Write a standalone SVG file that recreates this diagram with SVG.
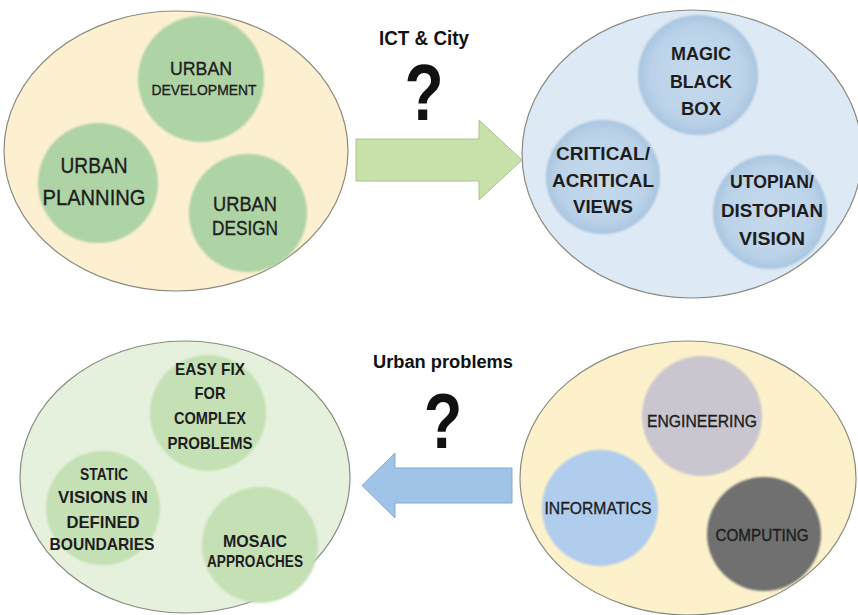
<svg xmlns="http://www.w3.org/2000/svg" width="858" height="615" viewBox="0 0 858 615">
  <defs>
    <filter id="soft" x="-10%" y="-10%" width="120%" height="120%">
      <feGaussianBlur stdDeviation="1"/>
    </filter>
    <radialGradient id="blueBall" cx="50%" cy="50%" r="50%">
      <stop offset="0" stop-color="#c6daec"/>
      <stop offset="0.8" stop-color="#bad2e8"/>
      <stop offset="1" stop-color="#a9c5df"/>
    </radialGradient>
  </defs>
  <style>
    .frame { stroke: #8a8a80; stroke-width: 1.2; }
    .t { font-family: "Liberation Sans", Arial, sans-serif; fill: #1d1d1d; text-anchor: middle; }
    .r { stroke: #1d1d1d; stroke-width: 0.35; }
    .b { font-weight: bold; }
    .head { font-family: "Liberation Sans", Arial, sans-serif; font-weight: bold; fill: #111; text-anchor: middle; }
  </style>
  <rect width="858" height="615" fill="#ffffff"/>

  <!-- Urban disciplines -->
  <g id="urban">
    <ellipse class="frame" cx="176" cy="151" rx="172" ry="140" fill="#fcf0d0"/>
    <g filter="url(#soft)" fill="#aed3a4">
      <circle cx="201" cy="79" r="63"/>
      <circle cx="98" cy="183" r="60"/>
      <circle cx="248" cy="213" r="59"/>
    </g>
    <text class="t r" x="201" y="75" font-size="19" textLength="62" lengthAdjust="spacingAndGlyphs">URBAN</text>
    <text class="t r" x="204" y="95" font-size="15" textLength="105" lengthAdjust="spacingAndGlyphs">DEVELOPMENT</text>
    <text class="t r" x="94" y="173" font-size="22" textLength="67" lengthAdjust="spacingAndGlyphs">URBAN</text>
    <text class="t r" x="94" y="205" font-size="22" textLength="103" lengthAdjust="spacingAndGlyphs">PLANNING</text>
    <text class="t r" x="245" y="211" font-size="20" textLength="64" lengthAdjust="spacingAndGlyphs">URBAN</text>
    <text class="t r" x="245" y="235" font-size="20" textLength="66" lengthAdjust="spacingAndGlyphs">DESIGN</text>
  </g>

  <!-- ICT views -->
  <g id="ict-views">
    <ellipse class="frame" cx="692" cy="154" rx="170" ry="144" fill="#dde9f5"/>
    <g filter="url(#soft)" fill="url(#blueBall)">
      <circle cx="698" cy="75" r="60"/>
      <circle cx="603" cy="177" r="57"/>
      <circle cx="770" cy="212" r="57"/>
    </g>
    <text class="t b" x="701" y="60" font-size="18" textLength="60" lengthAdjust="spacingAndGlyphs">MAGIC</text>
    <text class="t b" x="701" y="88" font-size="18" textLength="62" lengthAdjust="spacingAndGlyphs">BLACK</text>
    <text class="t b" x="701" y="115" font-size="18" textLength="40" lengthAdjust="spacingAndGlyphs">BOX</text>
    <text class="t b" x="603" y="160" font-size="19" textLength="94" lengthAdjust="spacingAndGlyphs">CRITICAL/</text>
    <text class="t b" x="603" y="187" font-size="19" textLength="102" lengthAdjust="spacingAndGlyphs">ACRITICAL</text>
    <text class="t b" x="603" y="213" font-size="19" textLength="60" lengthAdjust="spacingAndGlyphs">VIEWS</text>
    <text class="t b" x="772" y="188" font-size="19" textLength="84" lengthAdjust="spacingAndGlyphs">UTOPIAN/</text>
    <text class="t b" x="772" y="217" font-size="19" textLength="102" lengthAdjust="spacingAndGlyphs">DISTOPIAN</text>
    <text class="t b" x="772" y="245" font-size="19" textLength="66" lengthAdjust="spacingAndGlyphs">VISION</text>
  </g>

  <!-- Urban problems framing -->
  <g id="framing">
    <ellipse class="frame" cx="185" cy="477" rx="165" ry="136" fill="#e5f1dc"/>
    <g filter="url(#soft)" fill="#c5e0b5">
      <circle cx="208" cy="413" r="58"/>
      <circle cx="103" cy="508" r="57"/>
      <circle cx="260" cy="545" r="58"/>
    </g>
    <text class="t b" x="210" y="375" font-size="17" textLength="70" lengthAdjust="spacingAndGlyphs">EASY FIX</text>
    <text class="t b" x="210" y="399" font-size="17" textLength="31" lengthAdjust="spacingAndGlyphs">FOR</text>
    <text class="t b" x="210" y="424" font-size="17" textLength="72" lengthAdjust="spacingAndGlyphs">COMPLEX</text>
    <text class="t b" x="210" y="449" font-size="17" textLength="85" lengthAdjust="spacingAndGlyphs">PROBLEMS</text>
    <text class="t b" x="104" y="480" font-size="17" textLength="48" lengthAdjust="spacingAndGlyphs">STATIC</text>
    <text class="t b" x="103" y="503" font-size="17" textLength="90" lengthAdjust="spacingAndGlyphs">VISIONS IN</text>
    <text class="t b" x="103" y="528" font-size="17" textLength="73" lengthAdjust="spacingAndGlyphs">DEFINED</text>
    <text class="t b" x="102" y="550" font-size="17" textLength="105" lengthAdjust="spacingAndGlyphs">BOUNDARIES</text>
    <text class="t b" x="255" y="547" font-size="17" textLength="64" lengthAdjust="spacingAndGlyphs">MOSAIC</text>
    <text class="t b" x="255" y="567" font-size="17" textLength="96" lengthAdjust="spacingAndGlyphs">APPROACHES</text>
  </g>

  <!-- Technical disciplines -->
  <g id="technical">
    <ellipse class="frame" cx="688" cy="478" rx="168" ry="137" fill="#fcf1ca"/>
    <g filter="url(#soft)">
      <circle cx="702" cy="416" r="60" fill="#cac6cf"/>
      <circle cx="600" cy="508" r="58" fill="#b0cdee"/>
      <circle cx="764" cy="534" r="57" fill="#6f6f6f"/>
    </g>
    <text class="t r" x="702" y="427" font-size="17" textLength="110" lengthAdjust="spacingAndGlyphs">ENGINEERING</text>
    <text class="t r" x="598" y="514" font-size="17" textLength="107" lengthAdjust="spacingAndGlyphs">INFORMATICS</text>
    <text class="t r" x="762" y="541" font-size="17" textLength="93" lengthAdjust="spacingAndGlyphs">COMPUTING</text>
  </g>

  <!-- Connectors -->
  <g id="connectors">
    <polygon points="356,139 479,139 479,120 522,160 479,200 479,181 356,181" fill="#c8e0aa" stroke="#a9c48d" stroke-width="1"/>
    <polygon points="512,468 395,468 395,453 362,485.5 395,518 395,503 512,503" fill="#9fc4e8" stroke="#86a9cf" stroke-width="1"/>
    <text class="head" x="424" y="45" font-size="20" textLength="90" lengthAdjust="spacingAndGlyphs">ICT &amp; City</text>
    <text class="head" transform="translate(424,120) scale(0.8,1)" x="0" y="0" font-size="80">?</text>
    <text class="head" x="443" y="368" font-size="18" textLength="140" lengthAdjust="spacingAndGlyphs">Urban problems</text>
    <text class="head" transform="translate(443,448) scale(0.82,1)" x="0" y="0" font-size="77">?</text>
  </g>
</svg>
